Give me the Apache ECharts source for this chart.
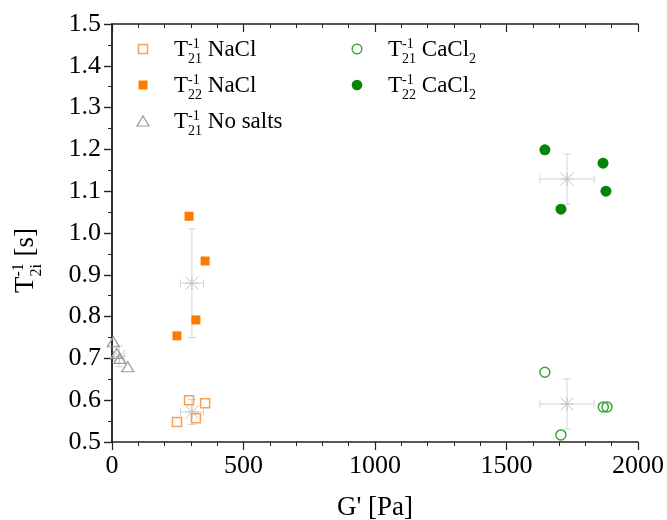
<!DOCTYPE html>
<html>
<head>
<meta charset="utf-8">
<script src="https://cdn.jsdelivr.net/npm/echarts@6/dist/echarts.min.js"></script>
<style>
  html, body { margin: 0; background: #fff; }
  #chart { width: 667px; height: 520px; }
</style>
</head>
<body>
<div id="chart"></div>
<script>
// [G' (Pa), 1/T2 (1/s)]
const naclT21 = [[247, 0.548], [293, 0.600], [319, 0.557], [354, 0.593]];
const naclT22 = [[247, 0.754], [293, 1.040], [319, 0.792], [354, 0.933]];
const noSaltT21 = [[5, 0.740], [18, 0.712], [30, 0.700], [60, 0.680]];
const caclT21 = [[1646, 0.667], [1707, 0.517], [1868, 0.584], [1882, 0.584]];
const caclT22 = [[1646, 1.199], [1707, 1.057], [1867, 1.167], [1878, 1.100]];
// averages: [x, y, xErr, yErr]
const means = [
  [304, 0.572, 44, 0.03],
  [304, 0.880, 44, 0.13],
  [27, 0.705, 20, 0.025],
  [1730, 1.129, 103, 0.06],
  [1730, 0.591, 103, 0.06]
];
const legendRows = [
  { sub: '21', name: ' NaCl', col: 0, row: 0, mark: 'openSq' },
  { sub: '22', name: ' NaCl', col: 0, row: 1, mark: 'fillSq' },
  { sub: '21', name: ' No salts', col: 0, row: 2, mark: 'tri' },
  { sub: '21', name: ' CaCl', nameSub: '2', col: 1, row: 0, mark: 'openCirc' },
  { sub: '22', name: ' CaCl', nameSub: '2', col: 1, row: 1, mark: 'fillCirc' }
];

const serif = 'Liberation Serif';
const orangeLight = '#F8A050', orange = '#FF7A00';
const greenLight = '#3DA33D', green = '#068407';
const triGray = '#9a9a9a', starGray = '#c4c4c4';

const ctx = document.createElement('canvas').getContext('2d');
function textWidth(t, size) {
  ctx.font = size + 'px "' + serif + '"';
  return ctx.measureText(t).width;
}
function txt(t, x, y, size) {
  return {
    type: 'text', x: x, y: y,
    style: { text: t, font: size + 'px "' + serif + '"', fill: '#000', verticalAlign: 'middle', align: 'left' }
  };
}
// T with -1 above and a subscript below, then the rest
function tLabel(sub, rest, size, restSub) {
  const small = Math.round(size * 0.6);
  const tw = textWidth('T', size);
  const sw = Math.max(textWidth('-1', small), textWidth(sub, small));
  const kids = [
    txt('T', 0, 0, size),
    txt('-1', tw, -size * 0.26, small),
    txt(sub, tw, size * 0.41, small),
    txt(rest, tw + sw, 0, size)
  ];
  if (restSub) kids.push(txt(restSub, tw + sw + textWidth(rest, size), size * 0.41, small));
  return kids;
}
function marker(kind, cx, cy) {
  if (kind === 'openSq') return { type: 'rect', shape: { x: cx - 4.5, y: cy - 4.5, width: 9, height: 9 }, style: { fill: 'none', stroke: orangeLight, lineWidth: 1.5 } };
  if (kind === 'fillSq') return { type: 'rect', shape: { x: cx - 4.5, y: cy - 4.5, width: 9, height: 9 }, style: { fill: orange } };
  if (kind === 'tri') return { type: 'polygon', shape: { points: [[cx, cy - 5], [cx + 6, cy + 5], [cx - 6, cy + 5]] }, style: { fill: 'none', stroke: triGray, lineWidth: 1.2 } };
  if (kind === 'openCirc') return { type: 'circle', shape: { cx: cx, cy: cy, r: 4.8 }, style: { fill: 'none', stroke: greenLight, lineWidth: 1.5 } };
  return { type: 'circle', shape: { cx: cx, cy: cy, r: 5.3 }, style: { fill: green } };
}

const graphics = [];
const colX = [143, 357], textX = [174, 388], rowY = [50, 86, 122];
legendRows.forEach(function (r) {
  graphics.push(marker(r.mark, colX[r.col], rowY[r.row] - 1));
  graphics.push({ type: 'group', x: textX[r.col], y: rowY[r.row], children: tLabel(r.sub, r.name, 23, r.nameSub) });
});
// y axis title, rotated
graphics.push({ type: 'group', x: 26, y: 293, rotation: Math.PI / 2, children: tLabel('2i', ' [s]', 27) });

const chart = echarts.init(document.getElementById('chart'));

function errBar(params, api) {
  const x = api.value(0), y = api.value(1), ex = api.value(2), ey = api.value(3);
  const l = api.coord([x - ex, y]), r = api.coord([x + ex, y]);
  const t = api.coord([x, y + ey]), b = api.coord([x, y - ey]);
  const cap = 4;
  const st = { stroke: '#d4d4d4', lineWidth: 1 };
  const line = function (x1, y1, x2, y2) { return { type: 'line', shape: { x1: x1, y1: y1, x2: x2, y2: y2 }, style: st }; };
  return {
    type: 'group',
    children: [
      line(l[0], l[1], r[0], r[1]),
      line(l[0], l[1] - cap, l[0], l[1] + cap),
      line(r[0], r[1] - cap, r[0], r[1] + cap),
      line(t[0], t[1], b[0], b[1]),
      line(t[0] - cap, t[1], t[0] + cap, t[1]),
      line(b[0] - cap, b[1], b[0] + cap, b[1])
    ]
  };
}

const axisLine = { show: true, lineStyle: { color: '#222', width: 1.5 } };
const tickLabel = { fontFamily: serif, fontSize: 26, color: '#000' };

const option = {
  animation: false,
  backgroundColor: '#fff',
  textStyle: { fontFamily: serif },
  grid: { left: 112, right: 29, top: 24, bottom: 78, outerBoundsMode: 'none', containLabel: false },
  xAxis: [
    {
      type: 'value', min: 0, max: 2000, interval: 500, position: 'bottom',
      axisLine: axisLine,
      axisTick: { show: true, inside: false, length: 8, lineStyle: { color: '#222', width: 1.2 } },
      minorTick: { show: true, splitNumber: 5, length: 4, lineStyle: { color: '#222', width: 1 } },
      splitLine: { show: false },
      axisLabel: Object.assign({ margin: 11, formatter: function (v) { return String(v); } }, tickLabel),
      name: "G' [Pa]", nameLocation: 'middle', nameGap: 52,
      nameTextStyle: { fontFamily: serif, fontSize: 27, color: '#000' }
    },
    {
      type: 'value', min: 0, max: 2000, interval: 500, position: 'top',
      axisLine: axisLine,
      axisTick: { show: true, inside: true, length: 8, lineStyle: { color: '#222', width: 1.2 } },
      minorTick: { show: true, splitNumber: 5, length: 4, lineStyle: { color: '#222', width: 1 } },
      splitLine: { show: false }, axisLabel: { show: false }
    }
  ],
  yAxis: [
    {
      type: 'value', min: 0.5, max: 1.5, interval: 0.1, position: 'left',
      axisLine: axisLine,
      axisTick: { show: true, inside: false, length: 8, lineStyle: { color: '#222', width: 1.2 } },
      minorTick: { show: true, splitNumber: 2, length: 4, lineStyle: { color: '#222', width: 1 } },
      splitLine: { show: false },
      axisLabel: Object.assign({ margin: 11, formatter: function (v) { return v.toFixed(1); } }, tickLabel)
    },
    {
      type: 'value', min: 0.5, max: 1.5, interval: 0.1, position: 'right',
      axisLine: axisLine,
      axisTick: { show: true, inside: true, length: 8, lineStyle: { color: '#222', width: 1.2 } },
      minorTick: { show: true, splitNumber: 2, length: 4, lineStyle: { color: '#222', width: 1 } },
      splitLine: { show: false }, axisLabel: { show: false }
    }
  ],
  graphic: graphics,
  series: [
    {
      type: 'custom', renderItem: errBar, data: means, encode: { x: 0, y: 1 }, z: 1
    },
    {
      type: 'scatter', data: means.map(function (m) { return [m[0], m[1]]; }),
      symbol: 'path://M0,0L10,10M10,0L0,10M5,0L5,10M0,5L10,5', symbolSize: 13,
      itemStyle: { color: 'rgba(0,0,0,0)', borderColor: starGray, borderWidth: 1, opacity: 1 }, z: 2
    },
    {
      type: 'scatter', data: noSaltT21, symbol: 'triangle', symbolSize: [12, 10],
      itemStyle: { color: 'rgba(0,0,0,0)', borderColor: triGray, borderWidth: 1.2, opacity: 1 }, z: 3
    },
    {
      type: 'scatter', data: naclT21, symbol: 'rect', symbolSize: 9,
      itemStyle: { color: 'rgba(0,0,0,0)', borderColor: orangeLight, borderWidth: 1.5, opacity: 1 }, z: 3
    },
    {
      type: 'scatter', data: naclT22, symbol: 'rect', symbolSize: 9,
      itemStyle: { color: orange, opacity: 1 }, z: 3
    },
    {
      type: 'scatter', data: caclT21, symbol: 'circle', symbolSize: 10,
      itemStyle: { color: 'rgba(0,0,0,0)', borderColor: greenLight, borderWidth: 1.5, opacity: 1 }, z: 3
    },
    {
      type: 'scatter', data: caclT22, symbol: 'circle', symbolSize: 11,
      itemStyle: { color: green, opacity: 1 }, z: 3
    }
  ]
};
chart.setOption(option);
</script>
</body>
</html>
